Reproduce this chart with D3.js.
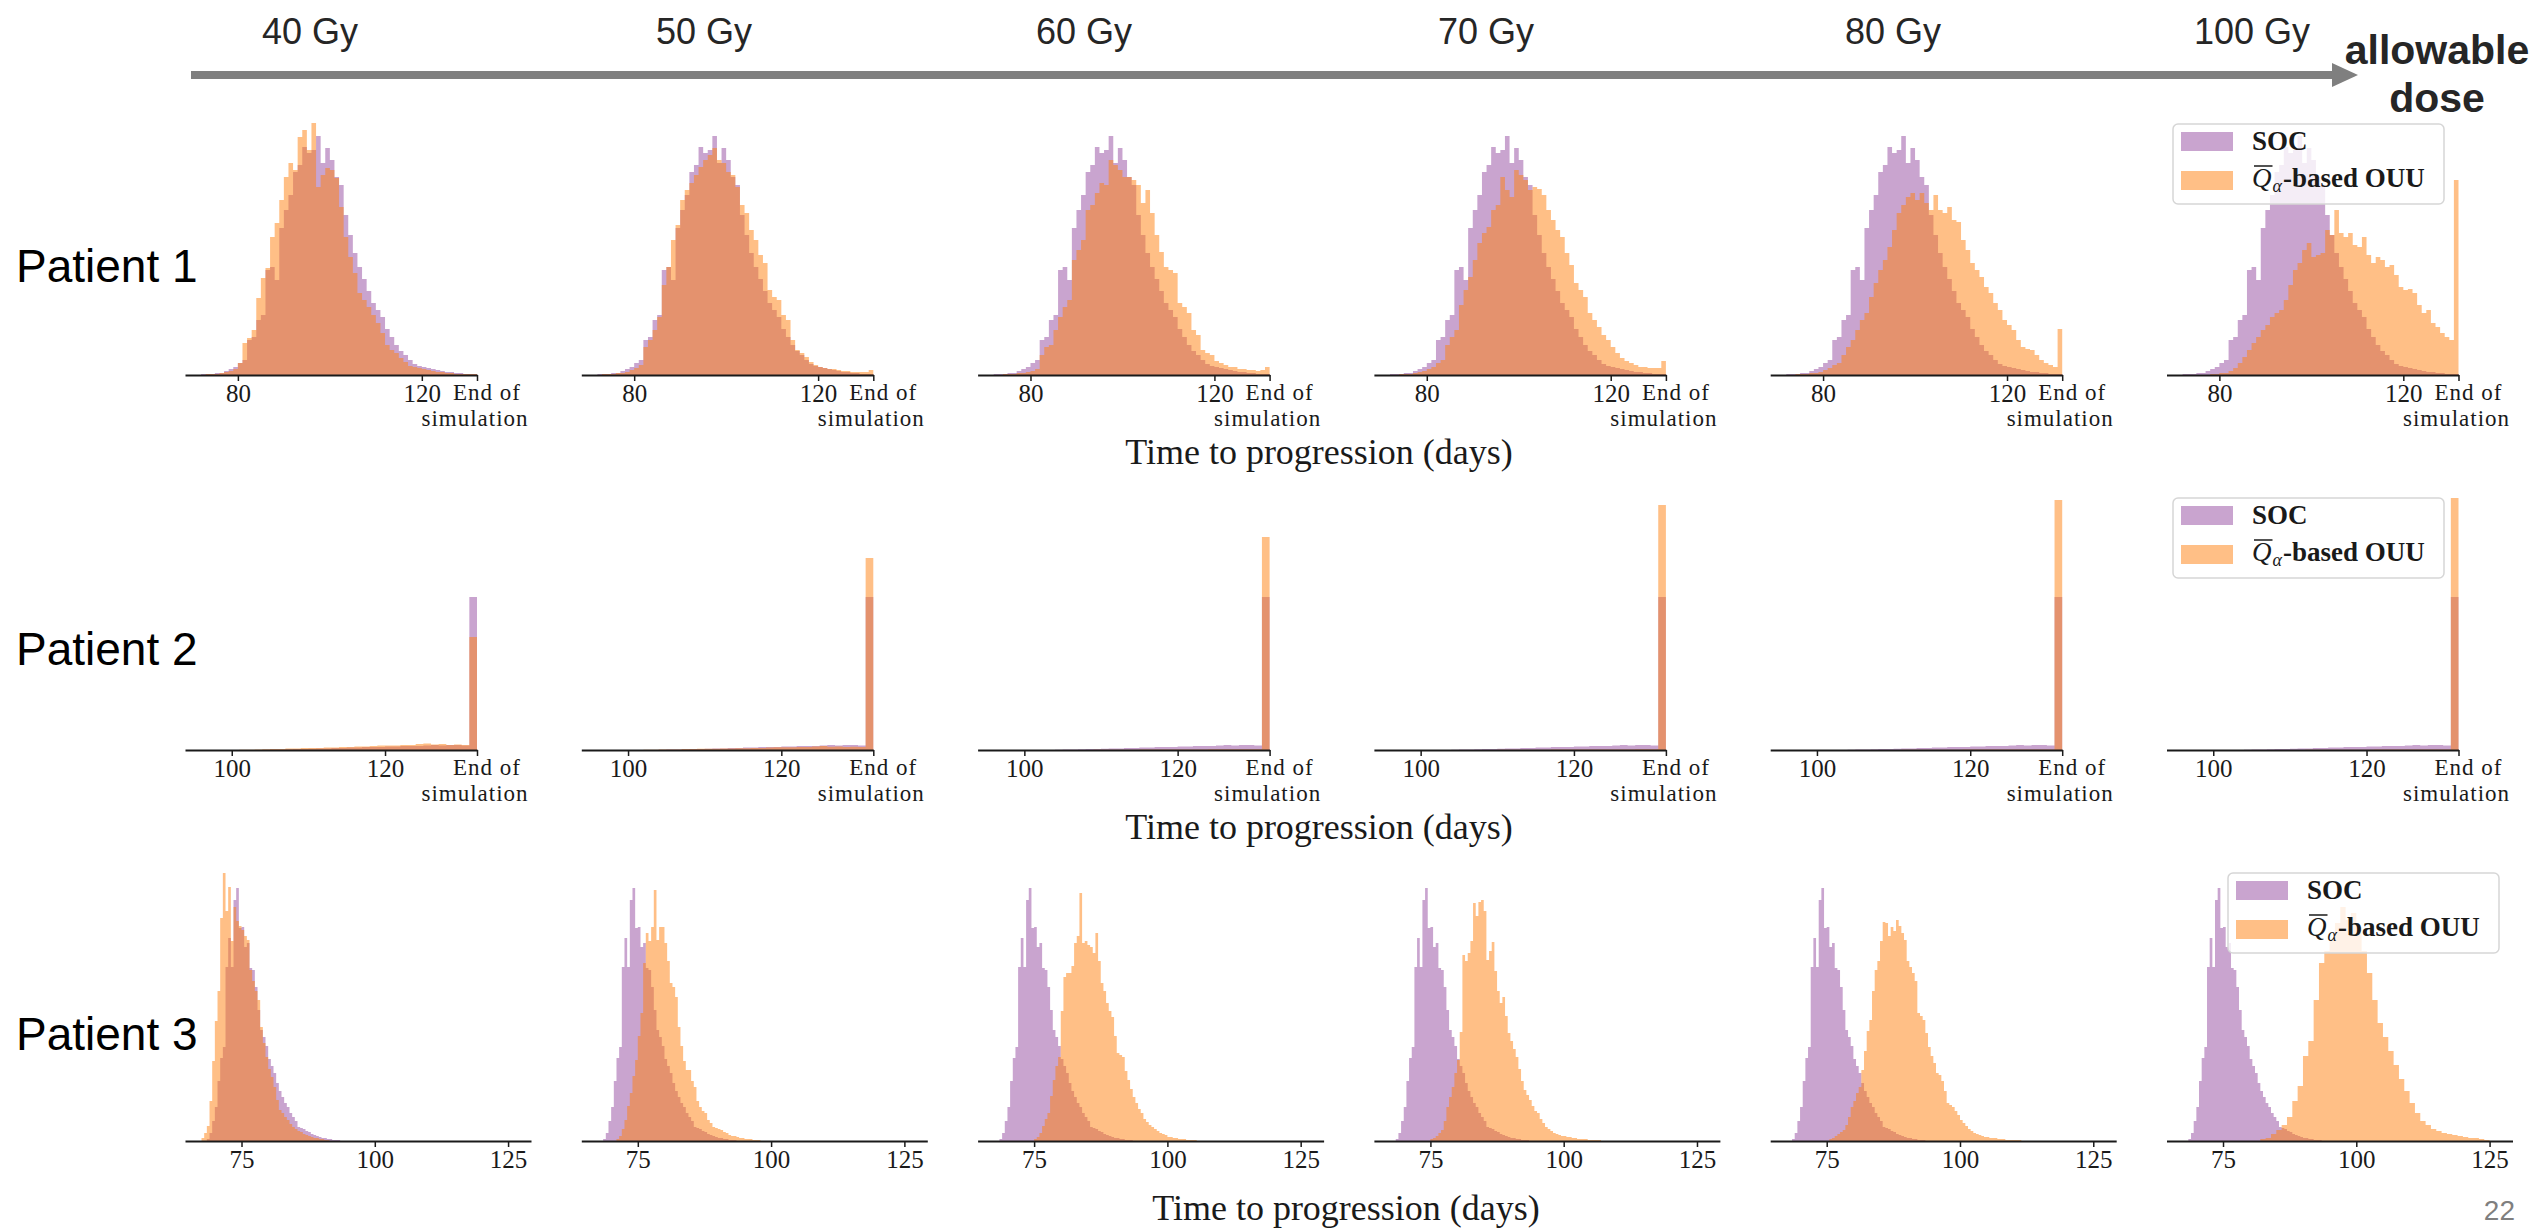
<!DOCTYPE html>
<html>
<head>
<meta charset="utf-8">
<script src="https://cdn.jsdelivr.net/npm/d3@7"></script>
<style>
  html, body { margin: 0; padding: 0; background: #fff; overflow: hidden; }
  svg { display: block; }
</style>
</head>
<body>
<svg id="chart" width="2532" height="1231"></svg>
<script>
// ---- labels ----
const doses = ["40 Gy", "50 Gy", "60 Gy", "70 Gy", "80 Gy", "100 Gy"];
const patients = ["Patient 1", "Patient 2", "Patient 3"];
const seriesNames = ["SOC", "OUU"];
const axisTitle = "Time to progression (days)";

// ---- tick values per patient row (132 = end of simulation) ----
const ticksP1 = [80, 120, 132];
const ticksP2 = [100, 120, 132];
const ticksP3 = [75, 100, 125];
const endOfSim = 132;

// ---- Patient 1: 1-day bins, first bin starts at day 72 ----
const p1Start = 72, p1Bin = 1;
const p1Soc = [1,1,1,2,2,4,6,8,12,15, 35,38,55,60,105,108,95,147,165,180, 203,210,228,222,225,239,212,227,215,198, 190,160,140,122,108,96,84,72,65,58, 46,38,30,24,20,15,11,9,8,7, 6,5,4,3,3,2,2,1,1,1];
const p1Ouu40 = [0,1,1,1,2,3,4,6,12,32, 37,45,77,97,107,138,152,175,198,212, 205,238,245,225,252,188,200,207,205,197, 168,138,118,102,82,75,68,60,52,42, 30,25,22,17,13,9,8,7,6,5, 4,3,3,2,2,1,1,1,1,1];
const p1Ouu50 = [0,1,1,1,2,2,3,5,7,10, 28,35,45,58,90,108,135,150,175,185, 192,200,208,215,220,227,215,212,203,200, 188,170,162,145,135,120,112,85,78,75, 60,55,35,25,22,18,13,10,8,7, 6,6,5,4,4,3,3,3,3,5];
const p1Ouu60 = [0,0,1,1,1,2,2,3,4,6, 20,28,30,45,58,68,75,115,125,135, 165,170,182,192,190,215,210,205,198,198, 195,190,172,185,162,140,123,108,105,102, 72,68,62,45,40,25,22,20,14,12, 10,8,8,6,6,5,5,4,5,8];
const p1Ouu70 = [0,0,1,1,1,2,3,4,6,8, 12,15,30,38,45,70,85,98,115,132, 142,148,165,170,198,185,178,205,200,195, 185,188,186,180,165,155,145,138,122,110, 92,85,78,62,55,48,40,35,28,22, 17,14,12,10,8,8,7,7,7,14];
const p1Ouu80 = [0,0,1,1,1,2,2,3,5,7, 10,12,20,28,35,45,55,62,78,92, 105,115,128,145,162,170,178,182,175,182, 172,165,180,165,162,168,155,153,135,125, 112,105,98,88,82,72,65,55,50,45, 35,28,26,25,20,15,12,10,8,46];
const p1Ouu100 = [0,0,0,0,0,0,1,1,2,2, 4,7,12,18,25,32,38,45,50,58, 62,65,75,90,105,112,125,132,118,120, 122,145,140,165,142,138,142,130,128,138, 120,112,118,115,108,110,100,88,85,86, 82,70,62,65,52,48,42,38,35,195];

// ---- Patient 2: 1-day bins, first bin starts at day 100 ----
const p2Start = 100, p2Bin = 1;
const p2Soc = [0,0,0,0,0.3,0.5,0.5,0.8,1,1, 1.2,1.5,1.5,2,2,2.5,2.5,3,3,3, 3.5,3.5,4,4,4,4.5,5,4.5,5,5, 4.5,153];
const p2Ouu40 = [0,0.2,0.3,0.5,0.7,1,1,1.5,1.5,2, 2,2,2.5,2.5,3,3,3.5,3.5,4,4.5, 4.5,4.5,5,5,6,6.5,5.5,6,5,5.5, 5,113];
const p2Ouu50 = [0,0,0.2,0.3,0.4,0.6,0.6,0.9,0.9,1.2, 1.2,1.2,1.5,1.5,1.8,1.8,2.1,2.1,2.4,2.7, 2.7,2.7,3,3,3.6,3.9,3.3,3.6,3,3.3, 3,192];
const p2Ouu60 = [0,0,0,0,0,0,0.1,0.1,0.1,0.2, 0.2,0.2,0.3,0.3,0.3,0.4,0.4,0.4,0.5,0.5, 0.5,0.6,0.6,0.6,0.7,0.7,0.7,0.8,0.8,0.8, 0.8,213];
const p2Ouu70 = [0,0,0,0,0,0,0.1,0.1,0.1,0.1, 0.2,0.2,0.2,0.3,0.3,0.3,0.3,0.4,0.4,0.4, 0.5,0.5,0.5,0.5,0.6,0.6,0.6,0.6,0.7,0.7, 0.7,245];
const p2Ouu80 = [0,0,0,0,0,0,0,0.1,0.1,0.1, 0.1,0.2,0.2,0.2,0.2,0.3,0.3,0.3,0.3,0.4, 0.4,0.4,0.4,0.5,0.5,0.5,0.5,0.5,0.6,0.6, 0.6,250];
const p2Ouu100 = [0,0,0,0,0,0,0,0,0.1,0.1, 0.1,0.1,0.2,0.2,0.2,0.2,0.2,0.3,0.3,0.3, 0.3,0.4,0.4,0.4,0.4,0.4,0.5,0.5,0.5,0.5, 0.5,252];

// ---- Patient 3: half-day bins (1-day for 100 Gy) ----
const p3SocStart = 68.5, p3SocBin = 0.5;
const p3Soc = [2,8,20,34,60,83,94,174,203,174, 241,253,213,214,194,198,173,171,154,131, 111,104,95,82,75,68,58,50,44,38, 34,28,24,20,14,13,12,10,9,7, 6,5,4,3,3,2,2,1,1,1];
const p3OuuStart = [67.5, 71, 75, 75, 75.5, 82];
const p3OuuBin = [0.5, 0.5, 0.5, 0.5, 0.5, 1];
const p3Ouu40 = [3,8,15,40,80,120,150,223,268,230, 254,200,234,220,215,211,205,201,171,160, 150,141,114,98,84,72,64,54,41,31, 28,24,21,17,14,12,10,9,7,6, 5,4,3,3,2,2,1,1];
const p3Ouu50 = [2,5,12,21,35,48,65,81,105,128, 178,208,200,214,251,201,214,214,198,180, 158,154,144,114,95,80,71,71,60,54, 40,34,30,28,21,18,14,13,12,11, 9,8,6,5,5,4,3,3,2,2, 2,1,1,1];
const p3Ouu60 = [2,4,8,15,22,28,45,61,75,84, 130,164,168,168,175,198,205,248,198,200, 196,194,188,208,180,158,150,138,130,124, 105,88,86,84,70,61,52,44,38,32, 28,22,19,16,14,12,10,8,7,6, 4,4,3,3,2,2,2,1,1,1, 1];
const p3Ouu70 = [2,3,5,8,11,20,34,44,54,68, 81,109,186,180,188,200,238,225,239,241, 230,181,190,199,170,150,138,144,125,108, 100,92,84,72,60,51,46,41,35,30, 28,22,18,14,12,10,8,7,6,5, 5,4,4,3,3,2,2,2,2,1, 1,1,1,1];
const p3Ouu80 = [2,3,5,7,9,11,16,24,34,40, 48,54,71,90,110,121,150,171,180,200, 219,218,205,214,210,221,215,208,201,180, 174,168,160,128,125,121,108,94,85,78, 68,66,60,50,38,36,34,30,26,21, 18,15,12,10,8,7,6,5,4,4, 3,3,3,2,2,2,1,1,1,1, 1,1];
const p3Ouu100 = [2,3,7,11,16,24,40,55,85,100, 141,178,190,201,218,234,221,228,214,190, 168,141,118,104,90,76,62,50,38,28, 20,16,12,10,8,7,6,5,4,3, 3,2,1];

// ---- layout ----
const W = 2532, H = 1231;
const panelLeft = 185, panelStep = 396.3;
const yMax = 265;
const serif = "'Liberation Serif', 'DejaVu Serif', serif";
const sans = "'Liberation Sans', Arial, sans-serif";
const socColor = "#9449a0", ouuColor = "#ff7f0e";
const ink = "#1a1a1a";

const rows = [
  {
    base: 375, width: 292, domain: [68.5, 132], ticks: ticksP1, end: true,
    soc: { start: p1Start, bin: p1Bin, values: p1Soc },
    ouu: [p1Ouu40, p1Ouu50, p1Ouu60, p1Ouu70, p1Ouu80, p1Ouu100].map(v => ({ start: p1Start, bin: p1Bin, values: v })),
    patientY: 282, titleX: 1319, titleY: 464, legend: { x: 2173, y: 124 }
  },
  {
    base: 750, width: 292, domain: [93.9, 132], ticks: ticksP2, end: true,
    soc: { start: p2Start, bin: p2Bin, values: p2Soc },
    ouu: [p2Ouu40, p2Ouu50, p2Ouu60, p2Ouu70, p2Ouu80, p2Ouu100].map(v => ({ start: p2Start, bin: p2Bin, values: v })),
    patientY: 665, titleX: 1319, titleY: 839, legend: { x: 2173, y: 498 }
  },
  {
    base: 1141, width: 346, domain: [64.4, 129.3], ticks: ticksP3, end: false,
    soc: { start: p3SocStart, bin: p3SocBin, values: p3Soc },
    ouu: [p3Ouu40, p3Ouu50, p3Ouu60, p3Ouu70, p3Ouu80, p3Ouu100].map((v, i) => ({ start: p3OuuStart[i], bin: p3OuuBin[i], values: v })),
    patientY: 1050, titleX: 1346, titleY: 1220, legend: { x: 2228, y: 873 }
  }
];

const svg = d3.select("#chart");
svg.append("rect").attr("width", W).attr("height", H).attr("fill", "#fff");

// ---- dose arrow across the top ----
const doseX = [310, 704, 1084, 1486, 1893, 2252];
svg.selectAll("text.dose").data(doses).enter()
  .append("text").attr("class", "dose")
  .attr("x", (d, i) => doseX[i]).attr("y", 44)
  .attr("text-anchor", "middle")
  .attr("font-family", sans).attr("font-size", 36).attr("fill", "#262626")
  .text(d => d);

svg.append("rect").attr("x", 191).attr("y", 71).attr("width", 2336 - 191).attr("height", 8).attr("fill", "#7f7f7f");
svg.append("path").attr("d", "M2332,63 L2358,75 L2332,87 Z").attr("fill", "#7f7f7f");

const allow = svg.append("text").attr("text-anchor", "middle")
  .attr("font-family", sans).attr("font-size", 41).attr("font-weight", "bold").attr("fill", "#262626");
allow.append("tspan").attr("x", 2437).attr("y", 64).text("allowable");
allow.append("tspan").attr("x", 2437).attr("y", 112).text("dose");

// step-shaped histogram outline
function binPoints(s) {
  const pts = s.values.map((v, i) => ({ x: s.start + i * s.bin, y: v }));
  pts.push({ x: s.start + s.values.length * s.bin, y: s.values[s.values.length - 1] });
  return pts;
}

rows.forEach((row, r) => {
  svg.append("text")
    .attr("x", 16).attr("y", row.patientY)
    .attr("font-family", sans).attr("font-size", 46).attr("fill", "#000")
    .text(patients[r]);

  doses.forEach((dose, c) => {
    const x0 = panelLeft + panelStep * c;
    const g = svg.append("g").attr("transform", "translate(" + x0 + ",0)");

    const x = d3.scaleLinear().domain(row.domain).range([0, row.width]);
    const y = d3.scaleLinear().domain([0, yMax]).range([row.base, row.base - yMax]);

    const area = d3.area()
      .curve(d3.curveStepAfter)
      .x(d => x(d.x))
      .y0(y(0))
      .y1(d => y(d.y));

    g.append("path").datum(binPoints(row.soc))
      .attr("d", area).attr("fill", socColor).attr("fill-opacity", 0.5);
    g.append("path").datum(binPoints(row.ouu[c]))
      .attr("d", area).attr("fill", ouuColor).attr("fill-opacity", 0.5);

    const axis = d3.axisBottom(x)
      .tickValues(row.ticks)
      .tickSize(6)
      .tickSizeOuter(0)
      .tickFormat(d => (row.end && d === endOfSim) ? "" : d);

    const ax = g.append("g").attr("transform", "translate(0," + row.base + ")").call(axis);
    ax.select(".domain").attr("stroke", ink).attr("stroke-width", 2);
    ax.selectAll(".tick line").attr("stroke", ink).attr("stroke-width", 1.5);
    ax.selectAll(".tick text")
      .attr("font-family", serif).attr("font-size", 25).attr("fill", ink);

    if (row.end) {
      // two-line label under the last tick
      const ex = x(endOfSim);
      const lab = ax.append("text")
        .attr("font-family", serif).attr("font-size", 23).attr("letter-spacing", 1).attr("fill", ink);
      lab.append("tspan").attr("x", ex - 24).attr("y", 25).attr("text-anchor", "start").text("End of");
      lab.append("tspan").attr("x", ex - 2).attr("y", 51).attr("text-anchor", "middle").text("simulation");
    }
  });

  svg.append("text")
    .attr("x", row.titleX).attr("y", row.titleY).attr("text-anchor", "middle")
    .attr("font-family", serif).attr("font-size", 36).attr("fill", ink)
    .text(axisTitle);

  // legend in the last panel
  const lg = svg.append("g").attr("transform", "translate(" + row.legend.x + "," + row.legend.y + ")");
  lg.append("rect").attr("width", 271).attr("height", 80).attr("rx", 5)
    .attr("fill", "#fff").attr("fill-opacity", 0.8)
    .attr("stroke", "#d6d6d6").attr("stroke-width", 1.5);
  lg.append("rect").attr("x", 8).attr("y", 8).attr("width", 52).attr("height", 19)
    .attr("fill", socColor).attr("fill-opacity", 0.5);
  lg.append("rect").attr("x", 8).attr("y", 47).attr("width", 52).attr("height", 19)
    .attr("fill", ouuColor).attr("fill-opacity", 0.5);
  lg.append("text").attr("x", 79).attr("y", 26)
    .attr("font-family", serif).attr("font-size", 27).attr("font-weight", "bold").attr("fill", ink)
    .text(seriesNames[0]);

  // Q-bar_alpha-based OUU as one text element
  const ouuLabel = lg.append("text").attr("x", 79).attr("y", 63)
    .attr("font-family", serif).attr("font-size", 27).attr("fill", ink);
  const q = ouuLabel.append("tspan").attr("font-style", "italic").text("Q");
  ouuLabel.append("tspan").attr("font-style", "italic").attr("font-size", 18).attr("dx", 1).attr("dy", 5).text("α");
  ouuLabel.append("tspan").attr("font-weight", "bold").attr("dx", 1).attr("dy", -5).text("-based " + seriesNames[1]);
  const qw = q.node().getComputedTextLength();
  lg.append("line").attr("x1", 81).attr("x2", 79 + qw + 1).attr("y1", 42).attr("y2", 42)
    .attr("stroke", ink).attr("stroke-width", 1.5);
});

svg.append("text").attr("x", 2515).attr("y", 1220).attr("text-anchor", "end")
  .attr("font-family", sans).attr("font-size", 28).attr("fill", "#7f7f7f")
  .text("22");
</script>
</body>
</html>
